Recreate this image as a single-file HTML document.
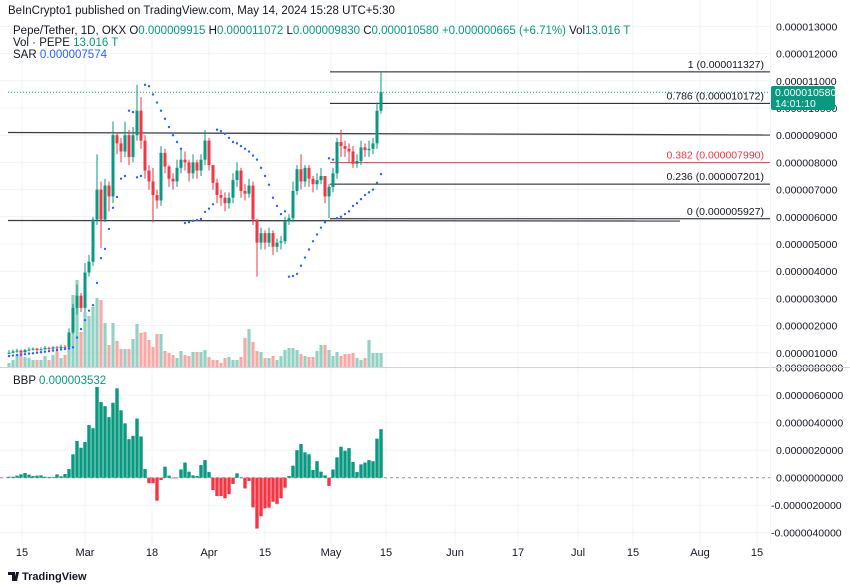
<!DOCTYPE html>
<html><head><meta charset="utf-8"><style>
html,body{margin:0;padding:0;background:#fff;}
svg{display:block;font-family:"Liberation Sans",sans-serif;}
</style></head><body>
<svg id="chart" width="850" height="588" viewBox="0 0 850 588" xmlns="http://www.w3.org/2000/svg">
<rect width="850" height="588" fill="#fff"/>
<g id="grid"></g>
<g id="vol"></g>
<g id="levels"></g>
<g id="candles"></g>
<g id="sar"></g>
<g id="bbp"></g>
<g id="axes"></g>
<line x1="0" y1="367.5" x2="850" y2="367.5" stroke="#d1d4dc"/>
<line x1="770.5" y1="0" x2="770.5" y2="545" stroke="#f0f3fa"/>
<text x="8" y="14" font-size="11.5" fill="#131722">BeInCrypto1 published on TradingView.com, May 14, 2024 15:28 UTC+5:30</text>
<text x="13" y="34" font-size="11.5" fill="#131722">Pepe/Tether, 1D, OKX  O<tspan fill="#089981">0.000009915</tspan>  H<tspan fill="#089981">0.000011072</tspan>  L<tspan fill="#089981">0.000009830</tspan>  C<tspan fill="#089981">0.000010580</tspan>  <tspan fill="#089981">+0.000000665 (+6.71%)</tspan>  Vol<tspan fill="#089981">13.016 T</tspan></text>
<text x="13" y="46" font-size="11.5" fill="#131722">Vol · PEPE  <tspan fill="#089981">13.016 T</tspan></text>
<text x="13" y="58" font-size="11.5" fill="#131722">SAR  <tspan fill="#2962ff">0.000007574</tspan></text>
<text x="13" y="384" font-size="11.5" fill="#131722">BBP  <tspan fill="#089981">0.000003532</tspan></text>
<rect x="771" y="86" width="64" height="24" rx="2" fill="#089981"/>
<text x="775" y="96" font-size="10.5" fill="#fff">0.000010580</text>
<text x="775" y="107" font-size="10.5" fill="#fff">14:01:10</text>
<g>
<path d="M8 572h7v9h-3v-6h-4z M16 572h3l-2 9h-3z" fill="#131722"/>
<text x="22" y="580" font-size="11" font-weight="bold" fill="#131722">TradingView</text>
</g>
</svg>
<script>
const closes=[1.0,1.05,1.08,1.02,1.1,1.12,1.15,1.1,1.13,1.18,1.15,1.2,1.17,1.22,1.2,1.75,2.65,3.1,2.65,3.95,4.35,5.9,7.0,5.9,7.15,6.75,9.0,8.7,8.4,9.0,8.2,9.0,9.9,8.8,7.7,7.3,6.8,6.6,8.35,7.85,7.4,7.3,7.8,8.1,8.0,7.6,8.0,7.7,8.1,8.8,7.9,7.25,6.8,6.7,6.5,6.7,7.35,7.7,6.95,6.85,7.15,5.9,5.05,5.4,5.05,5.4,4.9,5.05,5.1,5.85,5.95,6.95,7.75,7.3,7.8,7.4,7.2,7.35,7.5,6.75,7.1,7.6,8.75,8.6,8.5,8.4,7.95,8.05,8.55,8.45,8.5,8.7,9.9,10.58];
const firstOpen=0.98;
const highs=[1.1,1.12,1.15,1.12,1.15,1.2,1.2,1.18,1.2,1.25,1.22,1.25,1.25,1.3,1.28,1.9,2.8,3.5,3.2,4.3,4.6,6.0,8.3,7.3,7.4,7.3,9.5,9.1,8.9,9.5,9.2,9.3,10.85,10.4,9.0,7.9,7.8,7.0,8.6,8.5,7.9,7.6,8.1,8.5,8.4,8.1,8.3,8.1,8.3,9.2,8.9,7.9,7.4,7.0,6.9,6.9,7.6,8.0,7.8,7.2,7.4,7.3,5.9,5.6,5.5,5.6,5.5,5.2,5.3,6.0,6.1,7.3,7.9,8.3,7.9,7.9,7.5,7.6,7.8,7.5,7.2,7.8,8.9,9.2,8.8,8.7,8.6,8.3,8.8,8.7,8.8,8.9,10.2,11.3];
const lows=[0.95,0.98,1.0,0.98,1.0,1.05,1.08,1.05,1.08,1.1,1.1,1.12,1.12,1.15,1.15,1.15,1.7,2.4,2.5,2.5,3.8,4.2,5.7,4.85,5.8,6.2,6.5,8.3,8.0,8.2,7.9,8.0,8.8,8.5,7.4,7.0,5.8,6.3,6.4,7.6,7.1,7.0,7.1,7.6,7.7,7.3,7.4,7.4,7.5,7.9,7.7,7.0,6.5,6.4,6.2,6.3,6.5,7.1,6.7,6.6,6.7,5.7,3.8,4.8,4.8,4.9,4.6,4.7,4.8,5.0,5.7,5.8,6.8,7.0,7.1,7.1,6.9,7.0,7.2,6.5,5.95,6.9,7.4,8.2,8.2,8.0,7.8,7.8,7.9,8.2,8.2,8.3,8.5,9.8];
const volumes=[4,7,12,15,10,9,7,7,7,11,7,12,16,9,12,19,72,87,35,55,51,60,69,67,44,22,44,26,18,18,18,28,43,34,35,27,20,33,33,16,14,12,9,16,12,11,15,15,15,17,10,7,7,4,9,10,7,7,10,29,38,25,16,15,9,9,11,7,11,17,19,19,17,13,11,10,10,16,22,22,17,11,15,11,13,13,14,9,7,9,27,14,14,14];
const sarValues=[0.88,0.9,0.92,0.93,0.95,0.97,0.98,1.0,1.02,1.04,1.06,1.08,1.1,1.12,1.14,1.16,1.2,1.56,1.87,2.2,2.55,2.75,3.57,4.48,4.82,5.55,6.33,6.73,7.4,7.5,9.9,9.85,7.45,7.5,10.85,10.8,10.5,10.2,9.9,9.6,9.3,9.0,8.75,8.5,5.77,5.8,5.85,5.88,5.92,6.18,6.3,6.46,9.2,9.15,9.05,8.9,8.75,8.7,8.6,8.5,8.4,8.25,8.1,7.8,7.5,7.18,6.7,6.4,6.1,6.2,3.8,3.82,3.9,4.2,4.5,4.8,5.1,5.35,5.6,5.8,8.15,8.1,5.95,6.0,6.1,6.2,6.4,6.5,6.65,6.8,6.9,7.0,7.25,7.57];
const bbpValues=[0.07,0.07,0.15,0.24,0.34,0.22,0.12,0.15,0.17,0.07,0.05,0.05,0.24,0.1,0.27,0.63,1.7,2.67,2.18,2.6,3.83,3.6,6.6,5.5,5.2,4.4,5.45,6.5,4.9,3.95,2.8,3.05,4.3,3.0,0.63,-0.4,-0.4,-1.67,-0.17,0.8,0.15,-0.05,-0.03,0.6,1.1,0.44,0.17,0.12,0.92,1.28,0.41,-0.9,-1.33,-1.33,-1.5,-1.2,-0.46,0.32,0,-0.78,-0.24,-2.16,-3.7,-2.8,-2.23,-2.18,-1.75,-1.9,-1.5,-0.73,0.12,0.87,2.0,2.45,1.84,1.7,0.56,1.2,0.44,0.17,-0.6,0.6,1.48,2.25,1.96,2.15,1.14,0.41,0.97,1.1,1.28,1.2,2.84,3.53];
const priceTicks=[1,2,3,4,5,6,7,8,9,10,11,12,13];
const priceTickLabels=["0.000001000","0.000002000","0.000003000","0.000004000","0.000005000","0.000006000","0.000007000","0.000008000","0.000009000","0.000010000","0.000011000","0.000012000","0.000013000"];
const bbpTicks=[8,6,4,2,0,-2,-4];
const bbpTickLabels=["0.0000080000","0.0000060000","0.0000040000","0.0000020000","0.0000000000","-0.0000020000","-0.0000040000"];
const timeTickIdx=[3.25,19,35.75,50,64,80.5,94.25,111.5,127.25,142.25,156,172.75,187];
const timeTickLabels=["15","Mar","18","Apr","15","May","15","Jun","17","Jul","15","Aug","15"];
const fibLevels=[11.327,10.172,7.990,7.201,5.927];
const fibLabels=["1 (0.000011327)","0.786 (0.000010172)","0.382 (0.000007990)","0.236 (0.000007201)","0 (0.000005927)"];
const fibColors=["#131722","#131722","#f23645","#131722","#131722"];
const lastPrice=10.58;

const NS="http://www.w3.org/2000/svg";
const xS=i=>9+4*i;
const yP=p=>380-27.2*p;
const yB=v=>477.7-13.75*v;
const yV=v=>367-v;
function mk(parent,tag,attrs){const e=document.createElementNS(NS,tag);for(const k in attrs)e.setAttribute(k,attrs[k]);document.getElementById(parent).appendChild(e);return e;}

priceTicks.forEach((p,k)=>{
  const l=mk('grid','line',{x1:0,x2:770,y1:yP(p),y2:yP(p),stroke:'#f2f3f5'});
  
  
  const t=mk('axes','text',{x:776,y:yP(p)+4,'font-size':10.5,fill:'#131722'});
  t.textContent=priceTickLabels[k];
  
  
});
bbpTicks.forEach((v,k)=>{
  const l=mk('grid','line',{x1:0,x2:770,y1:yB(v),y2:yB(v),stroke:'#f2f3f5'});
  
  
  const t=mk('axes','text',{x:v<0?771:776,y:yB(v)+4,'font-size':10.5,fill:'#131722'});
  t.textContent=bbpTickLabels[k];
  
  
});
timeTickIdx.forEach((ti,k)=>{
  const x=xS(ti);
  const l=mk('grid','line',{x1:x,x2:x,y1:0,y2:545,stroke:'#f2f3f5'});
  
  
  const t=mk('axes','text',{x:x,y:556,'font-size':11,fill:'#131722','text-anchor':'middle'});
  t.textContent=timeTickLabels[k];
  
  
});

volumes.forEach((v,i)=>{
  const o=i?closes[i-1]:firstOpen, up=closes[i]>=o;
  const r=mk('vol','rect',{x:xS(i)-1.6,y:yV(v),width:3.2,height:v,fill:up?'#92d2c4':'#f7a9a7'});
  
  
});

const l1=mk('levels','line',{x1:8,y1:132.5,x2:770,y2:135,stroke:'#3a3d45','stroke-width':1.3});


const l2=mk('levels','line',{x1:8,y1:220.5,x2:680,y2:221,stroke:'#3a3d45','stroke-width':1.3});


const lp=mk('levels','line',{x1:8,y1:yP(lastPrice),x2:770,y2:yP(lastPrice),stroke:'#089981','stroke-dasharray':'1 2'});


fibLevels.forEach((f,k)=>{
  const l=mk('levels','line',{x1:330,x2:770,y1:yP(f),y2:yP(f),stroke:fibColors[k],'stroke-width':1});
  
  
  const t=mk('levels','text',{x:764,y:yP(f)-4,'font-size':10.5,fill:fibColors[k],'text-anchor':'end'});
  t.textContent=fibLabels[k];
  
  
});

closes.forEach((c,i)=>{
  const o=i?closes[i-1]:firstOpen, up=c>=o, col=up?'#089981':'#f23645';
  const x=xS(i);
  const w=mk('candles','line',{x1:x,x2:x,y1:yP(highs[i]),y2:yP(lows[i]),stroke:col,'stroke-width':1});
  
  
  const top=yP(Math.max(o,c)), bot=yP(Math.min(o,c));
  const b=mk('candles','rect',{x:x-1.5,y:top,width:3,height:Math.max(1,bot-top),fill:col});
  
  
});

sarValues.forEach((s,i)=>{
  const d=mk('sar','circle',{cx:xS(i),cy:yP(s),r:1.2,fill:'#2962ff'});
  
  
});

const z=mk('bbp','line',{x1:0,x2:770,y1:yB(0),y2:yB(0),stroke:'#9598a1','stroke-dasharray':'3 3'});


bbpValues.forEach((v,i)=>{
  const y0=yB(0), y1=yB(v);
  const r=mk('bbp','rect',{x:xS(i)-1.7,y:Math.min(y0,y1),width:3.4,height:Math.max(0.5,Math.abs(y1-y0)),fill:v>=0?'#089981':'#f23645'});
  
  
});
</script>
</body></html>
